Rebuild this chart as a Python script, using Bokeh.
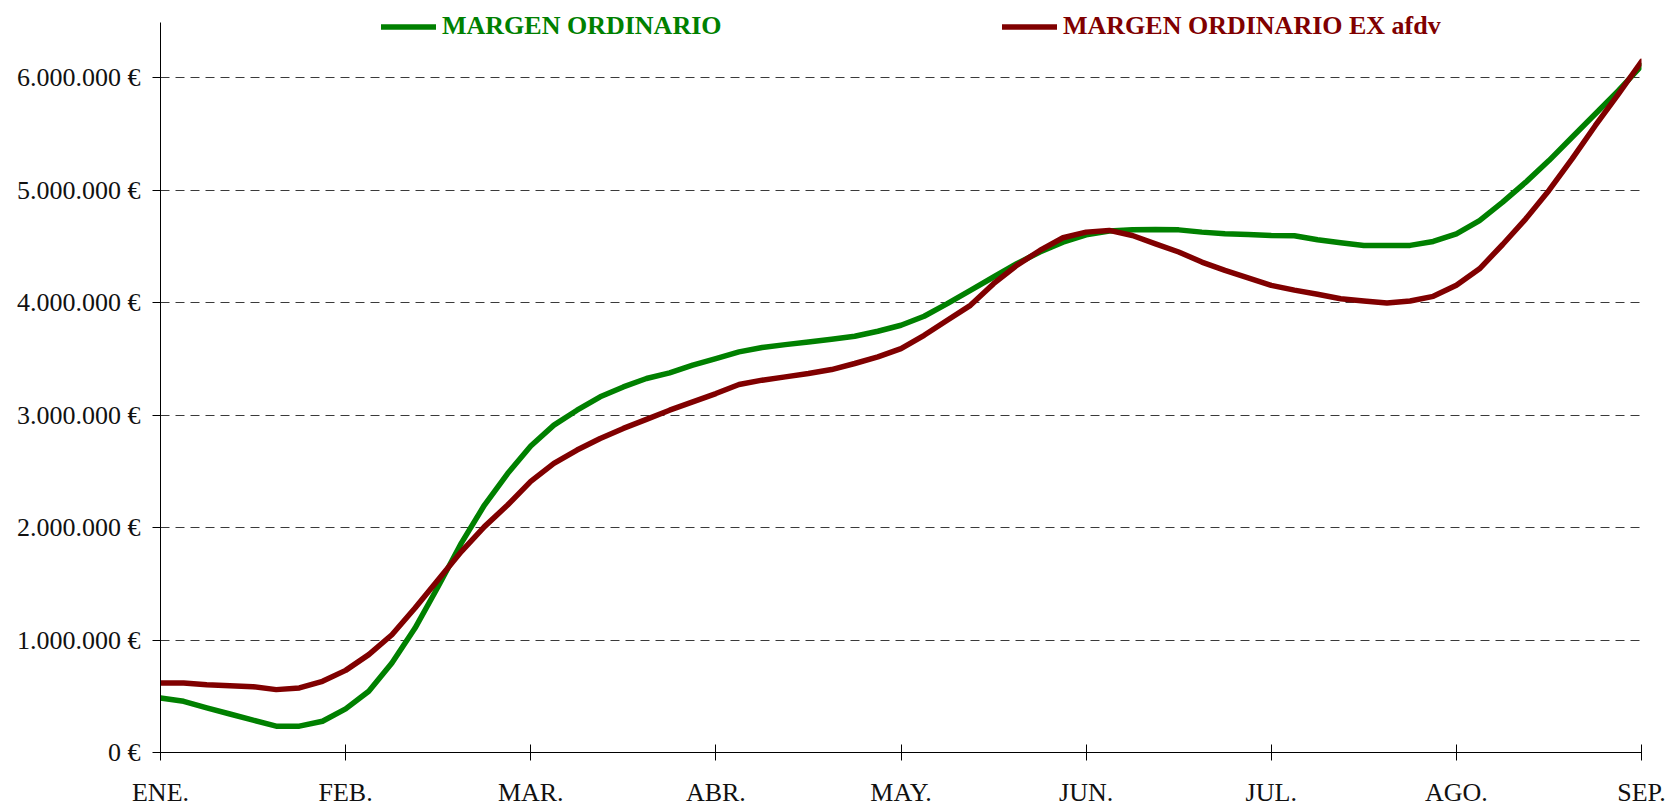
from bokeh.plotting import figure
from bokeh.models import Range1d, FixedTicker, Legend, LegendItem
from bokeh.embed import file_html
from bokeh.resources import INLINE

# ---- data ----
months = ["ENE.", "FEB.", "MAR.", "ABR.", "MAY.", "JUN.", "JUL.", "AGO.", "SEP."]
steps_per_month = 8  # samples between month ticks

margen_ordinario = [
    485000, 455000, 397000, 342000, 287000, 234000, 234000, 278000,
    388000, 544000, 796000, 1106000, 1476000, 1861000, 2200000, 2480000,
    2725000, 2910000, 3043000, 3162000, 3250000, 3325000, 3375000, 3443000,
    3502000, 3561000, 3600000, 3626000, 3650000, 3673000, 3700000, 3745000,
    3798000, 3878000, 3990000, 4108000, 4227000, 4345000, 4449000, 4537000,
    4602000, 4635000, 4646000, 4650000, 4646000, 4626000, 4611000, 4604000,
    4596000, 4594000, 4558000, 4531000, 4508000, 4508000, 4508000, 4543000,
    4611000, 4729000, 4892000, 5070000, 5262000, 5469000, 5676000, 5883000,
    6105000,
]

margen_ordinario_ex = [
    618000, 618000, 603000, 594000, 585000, 559000, 574000, 633000,
    730000, 870000, 1047000, 1284000, 1535000, 1786000, 2008000, 2200000,
    2410000, 2570000, 2689000, 2792000, 2881000, 2961000, 3043000, 3117000,
    3191000, 3271000, 3310000, 3339000, 3369000, 3404000, 3458000, 3517000,
    3591000, 3709000, 3842000, 3975000, 4168000, 4330000, 4463000, 4576000,
    4626000, 4641000, 4596000, 4522000, 4449000, 4360000, 4286000, 4220000,
    4153000, 4110000, 4073000, 4034000, 4014000, 3996000, 4014000, 4055000,
    4153000, 4300000, 4516000, 4744000, 4996000, 5277000, 5572000, 5853000,
    6143000,
]

y_ticks = [0, 1000000, 2000000, 3000000, 4000000, 5000000, 6000000]
y_tick_labels = ["0 €", "1.000.000 €", "2.000.000 €", "3.000.000 €",
                 "4.000.000 €", "5.000.000 €", "6.000.000 €"]
y_axis_top = 6490000      # where the drawn y-axis line ends
y_view_top = 6685000      # top of the visible area (room for the legend)

series_names = ["MARGEN ORDINARIO", "MARGEN ORDINARIO EX afdv"]
series_colors = ["#008000", "#800000"]

x_pos = [i / steps_per_month for i in range(len(margen_ordinario))]

FONT = "Liberation Serif"

p = figure(width=1673, height=809, output_backend="svg", toolbar_location=None,
           title=None,
           x_range=Range1d(0, len(months) - 1), y_range=Range1d(0, y_view_top),
           min_border_left=160, min_border_right=32, min_border_top=0,
           min_border_bottom=56)
p.outline_line_color = None
p.background_fill_color = "white"
p.border_fill_color = "white"

p.xgrid.visible = False
p.ygrid.ticker = FixedTicker(ticks=y_ticks[1:])
p.ygrid.grid_line_color = "#3a3a3a"
p.ygrid.grid_line_dash = "9 6"
p.ygrid.grid_line_width = 1

p.xaxis.ticker = FixedTicker(ticks=list(range(len(months))))
p.xaxis.major_label_overrides = {i: m for i, m in enumerate(months)}
p.yaxis.ticker = FixedTicker(ticks=y_ticks)
p.yaxis.major_label_overrides = dict(zip(y_ticks, y_tick_labels))
p.yaxis.bounds = (0, y_axis_top)

for ax in (p.xaxis[0], p.yaxis[0]):
    ax.axis_line_color = "black"
    ax.axis_line_width = 1
    ax.major_tick_line_color = "black"
    ax.minor_tick_line_color = None
    ax.major_label_text_font = FONT
    ax.major_label_text_font_size = "26px"
    ax.major_label_text_color = "#111111"

p.xaxis.major_tick_in = 8
p.xaxis.major_tick_out = 8
p.xaxis.major_label_standoff = 17
p.yaxis.major_tick_in = 0
p.yaxis.major_tick_out = 8
p.yaxis.major_label_standoff = 12

r1 = p.line(x_pos, margen_ordinario, line_color=series_colors[0], line_width=5.5,
            line_join="round", line_cap="round")
r2 = p.line(x_pos, margen_ordinario_ex, line_color=series_colors[1], line_width=5.5,
            line_join="round", line_cap="round")

def make_legend(renderer, name, color, loc):
    lg = Legend(items=[LegendItem(label=name, renderers=[renderer])],
                location=loc, orientation="horizontal",
                padding=0, margin=0, spacing=0,
                glyph_width=55, glyph_height=29, label_height=29,
                label_standoff=6,
                border_line_color=None, background_fill_alpha=0,
                label_text_font=FONT, label_text_font_size="26px",
                label_text_font_style="bold", label_text_color=color)
    return lg

p.add_layout(make_legend(r1, series_names[0], series_colors[0], (221, 711)), "center")
p.add_layout(make_legend(r2, series_names[1], series_colors[1], (842, 711)), "center")

open("out.html", "w").write(file_html(p, INLINE))
